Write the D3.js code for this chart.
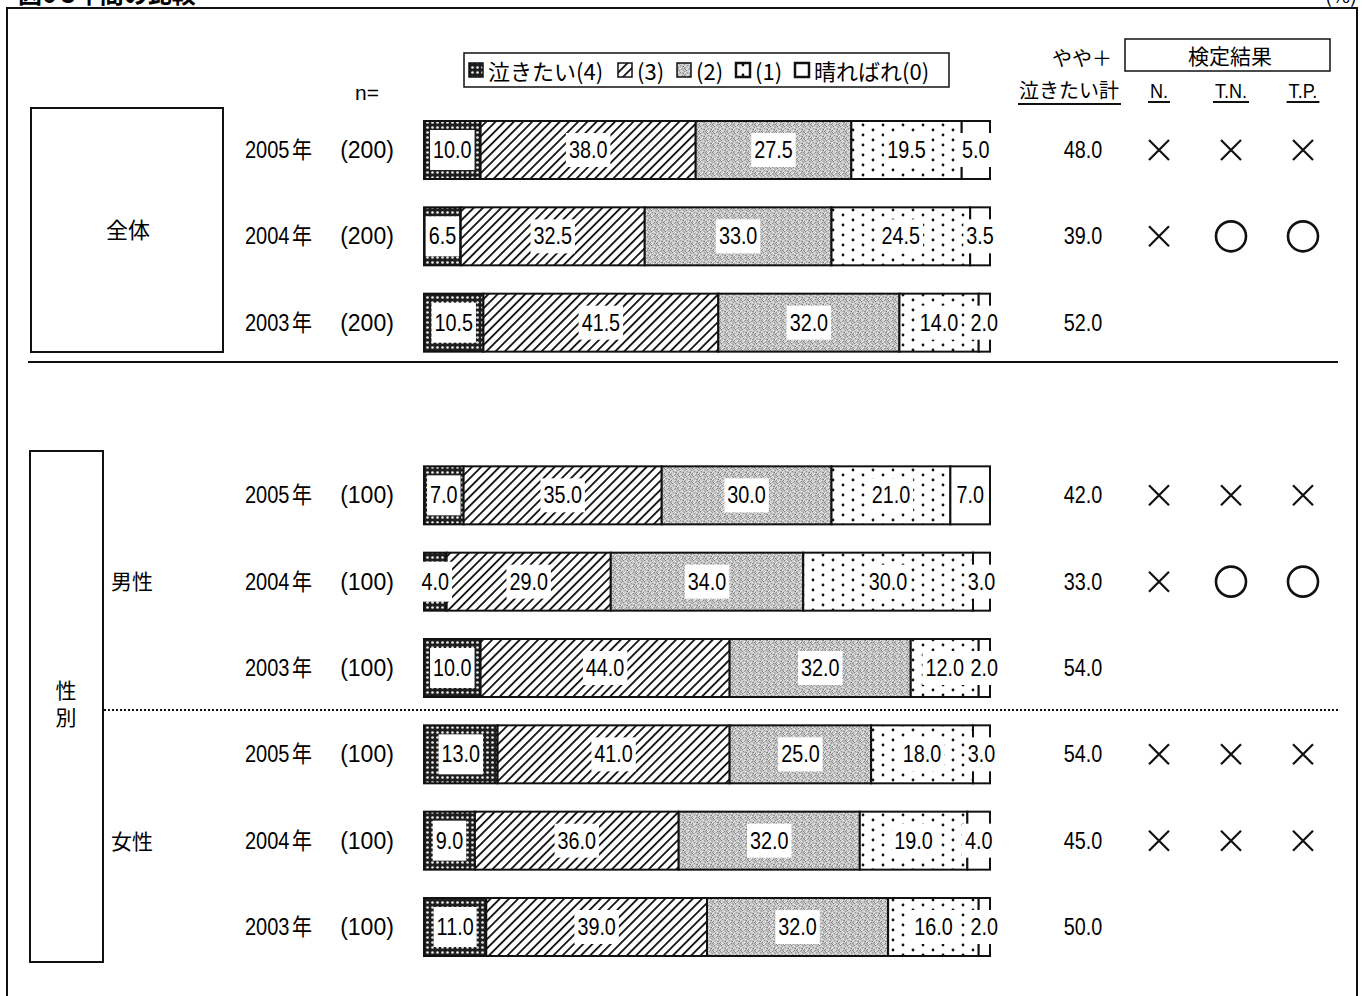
<!DOCTYPE html>
<html>
<head>
<meta charset="utf-8">
<script src="https://cdn.jsdelivr.net/npm/d3@7"></script>
<style>
  html, body { margin: 0; padding: 0; background: #fff; }
  svg { display: block; }
  .jp { font-family: "Noto Sans CJK JP", "Noto Sans", sans-serif; }
  .num { font-family: "Liberation Sans", "Arial", sans-serif; }
</style>
</head>
<body>
<svg id="chart" width="1363" height="996"></svg>
<script>
// ---- data ----
const rowYears = ["2005", "2004", "2003", "2005", "2004", "2003", "2005", "2004", "2003"];
const rowN = ["(200)", "(200)", "(200)", "(100)", "(100)", "(100)", "(100)", "(100)", "(100)"];
const rowSlot = [0, 1, 2, 4, 5, 6, 7, 8, 9];
const v4 = [10.0, 6.5, 10.5, 7.0, 4.0, 10.0, 13.0, 9.0, 11.0];
const v3 = [38.0, 32.5, 41.5, 35.0, 29.0, 44.0, 41.0, 36.0, 39.0];
const v2 = [27.5, 33.0, 32.0, 30.0, 34.0, 32.0, 25.0, 32.0, 32.0];
const v1 = [19.5, 24.5, 14.0, 21.0, 30.0, 12.0, 18.0, 19.0, 16.0];
const v0 = [5.0, 3.5, 2.0, 7.0, 3.0, 2.0, 3.0, 4.0, 2.0];
const topTwo = [48.0, 39.0, 52.0, 42.0, 33.0, 54.0, 54.0, 45.0, 50.0];
const testN = ["x", "x", "", "x", "x", "", "x", "x", ""];
const testTN = ["x", "o", "", "x", "o", "", "x", "x", ""];
const testTP = ["x", "o", "", "x", "o", "", "x", "x", ""];
const categories = ["泣きたい(4)", "(3)", "(2)", "(1)", "晴ればれ(0)"];
const testHeads = ["N.", "T.N.", "T.P."];

const svg = d3.select("#chart");
const defs = svg.append("defs");

// condensed numerals: squeeze the natural width of a text
function narrow(t, ratio = 0.86) {
  const w = t.node().getComputedTextLength();
  t.attr("textLength", w * ratio).attr("lengthAdjust", "spacingAndGlyphs");
  return w * ratio;
}

// ---- fill patterns ----
// (4) dark mesh
const p4 = defs.append("pattern").attr("id", "pat4").attr("patternUnits", "userSpaceOnUse")
  .attr("width", 5).attr("height", 5);
p4.append("rect").attr("width", 5).attr("height", 5).attr("fill", "#1e1e1e");
p4.append("circle").attr("cx", 2.5).attr("cy", 2.5).attr("r", 1.35).attr("fill", "#e8e8e8");

// (3) diagonal hatch
const p3 = defs.append("pattern").attr("id", "pat3").attr("patternUnits", "userSpaceOnUse")
  .attr("width", 6.5).attr("height", 6.5).attr("patternTransform", "rotate(45)");
p3.append("rect").attr("width", 6.5).attr("height", 6.5).attr("fill", "#fff");
p3.append("rect").attr("x", 0).attr("width", 1.8).attr("height", 6.5).attr("fill", "#111");

// (2) grey grain
const p2 = defs.append("pattern").attr("id", "pat2").attr("patternUnits", "userSpaceOnUse")
  .attr("width", 7).attr("height", 7);
p2.append("rect").attr("width", 7).attr("height", 7).attr("fill", "#c4c4c4");
const grain = [[0,0,"#7e7e7e"],[3,1,"#ececec"],[1,2,"#929292"],[4,3,"#767676"],[2,4,"#efefef"],
               [5,5,"#8c8c8c"],[0,4,"#dedede"],[5,1,"#9a9a9a"],[2,0,"#e2e2e2"],[3,5,"#888"],
               [1,5,"#e4e4e4"],[4,0,"#a4a4a4"],[6,2,"#e8e8e8"],[6,6,"#8a8a8a"],[2,6,"#9e9e9e"],
               [5,3,"#eaeaea"],[0,6,"#f0f0f0"],[3,3,"#a0a0a0"],[6,4,"#909090"],[1,1,"#dcdcdc"]];
grain.forEach(([x, y, c]) => p2.append("rect").attr("x", x).attr("y", y).attr("width", 1).attr("height", 1).attr("fill", c));

// (1) sparse dots
const p1 = defs.append("pattern").attr("id", "pat1").attr("patternUnits", "userSpaceOnUse")
  .attr("width", 20).attr("height", 20);
p1.append("rect").attr("width", 20).attr("height", 20).attr("fill", "#fff");
[[3, 5], [3, 15], [13, 0], [13, 10], [13, 20]].forEach(([x, y]) =>
  p1.append("circle").attr("cx", x).attr("cy", y).attr("r", 1.4).attr("fill", "#111"));

const fills = ["url(#pat4)", "url(#pat3)", "url(#pat2)", "url(#pat1)", "#fff"];

// ---- scales ----
const x = d3.scaleLinear().domain([0, 100]).range([424, 990]);
const y = d3.scaleLinear().domain([0, 9]).range([150, 927]);
const barH = 58;

// ---- frame and title ----
svg.append("text").attr("class", "jp").attr("x", 18).attr("y", 3)
  .attr("font-size", 24).attr("font-weight", "bold").text("図6 3年間の比較");
svg.append("text").attr("class", "jp").attr("x", 1357).attr("y", 3).attr("text-anchor", "end")
  .attr("font-size", 20).text("(%)");
svg.append("path").attr("d", "M7,1000 V8 H1357 V1000")
  .attr("fill", "none").attr("stroke", "#111").attr("stroke-width", 2);

// group boxes
svg.append("rect").attr("x", 31).attr("y", 108).attr("width", 192).attr("height", 244)
  .attr("fill", "none").attr("stroke", "#111").attr("stroke-width", 2);
svg.append("text").attr("class", "jp").attr("x", 128).attr("y", 238).attr("text-anchor", "middle")
  .attr("font-size", 22).text("全体");
svg.append("rect").attr("x", 30).attr("y", 451).attr("width", 73).attr("height", 511)
  .attr("fill", "none").attr("stroke", "#111").attr("stroke-width", 2);
svg.append("text").attr("class", "jp").attr("x", 66).attr("y", 680)
  .attr("font-size", 21).attr("writing-mode", "vertical-rl").attr("letter-spacing", 6)
  .text("性別");
svg.append("text").attr("class", "jp").attr("x", 111).attr("y", 589).attr("font-size", 21).text("男性");
svg.append("text").attr("class", "jp").attr("x", 111).attr("y", 849).attr("font-size", 21).text("女性");

// separators
svg.append("line").attr("x1", 28).attr("x2", 1338).attr("y1", 362).attr("y2", 362)
  .attr("stroke", "#111").attr("stroke-width", 2);
svg.append("line").attr("x1", 104).attr("x2", 1338).attr("y1", 710).attr("y2", 710)
  .attr("stroke", "#111").attr("stroke-width", 2).attr("stroke-dasharray", "2,2");

// ---- legend ----
const lg = svg.append("g");
lg.append("rect").attr("x", 464).attr("y", 53).attr("width", 485).attr("height", 34)
  .attr("fill", "#fff").attr("stroke", "#111").attr("stroke-width", 1.5);
const legendX = [469, 618, 677, 736, 795];
categories.forEach((c, i) => {
  lg.append("rect").attr("x", legendX[i]).attr("y", 63).attr("width", 14).attr("height", 14)
    .attr("fill", fills[i]).attr("stroke", "#111").attr("stroke-width", i >= 3 ? 2.5 : 1.5);
  lg.append("text").attr("class", "jp").attr("x", legendX[i] + 19).attr("y", 80)
    .attr("font-size", 22).text(c);
});

// ---- column headers ----
svg.append("text").attr("class", "num").attr("x", 367).attr("y", 100).attr("text-anchor", "middle")
  .attr("font-size", 21).text("n=");
svg.append("text").attr("class", "jp").attr("x", 1082).attr("y", 66).attr("text-anchor", "middle")
  .attr("font-size", 20).text("やや＋");
svg.append("text").attr("class", "jp").attr("x", 1069).attr("y", 98).attr("text-anchor", "middle")
  .attr("font-size", 20).text("泣きたい計");
svg.append("line").attr("x1", 1018).attr("x2", 1121).attr("y1", 104).attr("y2", 104)
  .attr("stroke", "#111").attr("stroke-width", 2);
svg.append("rect").attr("x", 1125).attr("y", 39).attr("width", 205).attr("height", 32)
  .attr("fill", "none").attr("stroke", "#111").attr("stroke-width", 1.5);
svg.append("text").attr("class", "jp").attr("x", 1230).attr("y", 64).attr("text-anchor", "middle")
  .attr("font-size", 21).text("検定結果");
const testX = [1159, 1231, 1303];
testHeads.forEach((h, i) => {
  const t = svg.append("text").attr("class", "num").attr("x", testX[i]).attr("y", 98)
    .attr("text-anchor", "middle").attr("font-size", 21).text(h);
  const w = narrow(t);
  svg.append("line").attr("x1", testX[i] - w / 2 - 2).attr("x2", testX[i] + w / 2 + 2)
    .attr("y1", 102).attr("y2", 102).attr("stroke", "#111").attr("stroke-width", 2);
});

// ---- rows ----
const vals = [v4, v3, v2, v1, v0];
rowSlot.forEach((slot, r) => {
  const cy = y(slot);
  // year label: condensed digits followed by 年, as one text
  const yr = svg.append("text").attr("transform", `translate(245,${cy + 8}) scale(0.87,1)`);
  yr.append("tspan").attr("class", "num").attr("font-size", 23).text(rowYears[r]);
  yr.append("tspan").attr("class", "jp").attr("font-size", 23).attr("dx", 3).text("年");
  svg.append("text").attr("class", "num").attr("x", 367).attr("y", cy + 8).attr("text-anchor", "middle")
    .attr("font-size", 23).text(rowN[r]);

  // stacked bar segments
  let acc = 0;
  const segs = vals.map((arr, k) => {
    const s = { k, v: arr[r], x0: acc, x1: acc + arr[r] };
    acc += arr[r];
    return s;
  });
  const g = svg.append("g");
  g.selectAll("rect.seg").data(segs).join("rect").attr("class", "seg")
    .attr("x", d => x(d.x0)).attr("width", d => x(d.x1) - x(d.x0))
    .attr("y", cy - barH / 2).attr("height", barH)
    .attr("fill", d => fills[d.k]).attr("stroke", "#111").attr("stroke-width", 2);

  // value labels on white boxes
  segs.forEach(d => {
    const mx = (x(d.x0) + x(d.x1)) / 2;
    const t = g.append("text").attr("class", "num").attr("x", mx).attr("y", cy + 8)
      .attr("text-anchor", "middle").attr("font-size", 23).text(d.v.toFixed(1));
    const w = narrow(t);
    const bh = d.k === 0 ? 40 : 34;
    g.insert("rect", "text").attr("x", mx - w / 2 - 3).attr("y", cy - bh / 2)
      .attr("width", w + 6).attr("height", bh).attr("fill", "#fff");
  });

  // top-two total
  const tt = svg.append("text").attr("class", "num").attr("x", 1083).attr("y", cy + 8).attr("text-anchor", "middle")
    .attr("font-size", 23).text(topTwo[r].toFixed(1));
  narrow(tt);

  // test results
  [testN[r], testTN[r], testTP[r]].forEach((m, i) => {
    const cx = testX[i];
    if (m === "x") {
      svg.append("path").attr("d", `M${cx - 10},${cy - 10} L${cx + 10},${cy + 10} M${cx + 10},${cy - 10} L${cx - 10},${cy + 10}`)
        .attr("stroke", "#111").attr("stroke-width", 2.2).attr("fill", "none");
    } else if (m === "o") {
      svg.append("circle").attr("cx", cx).attr("cy", cy).attr("r", 15)
        .attr("stroke", "#111").attr("stroke-width", 2.6).attr("fill", "none");
    }
  });
});
</script>
</body>
</html>
